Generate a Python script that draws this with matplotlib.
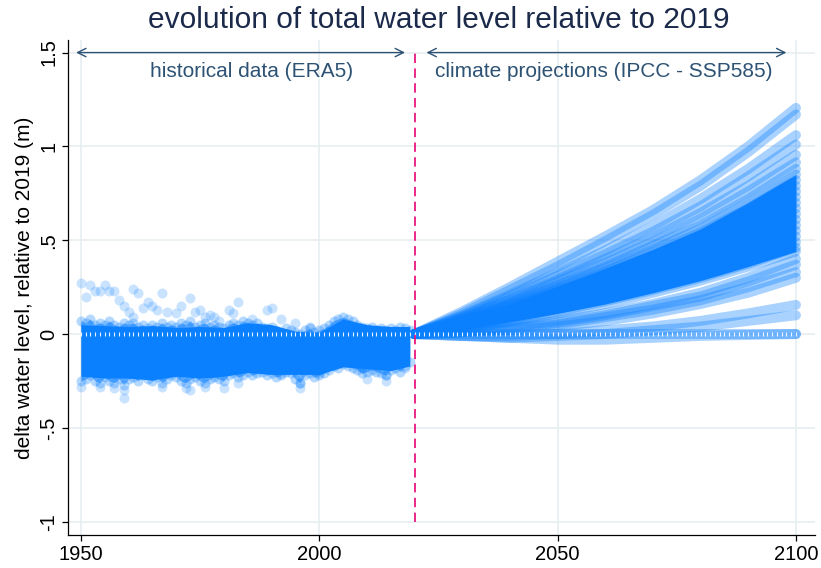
import numpy as np
import matplotlib
matplotlib.use("Agg")
import matplotlib.pyplot as plt

plt.rcParams['font.family'] = ['Liberation Sans', 'DejaVu Sans']

# historical reanalysis (ERA5): yearly spread of the water level, relative to 2019
hist_years = np.arange(1950, 2020)
hist_hi = [0.07, 0.06, 0.08, 0.05, 0.06, 0.05, 0.07, 0.05, 0.04, 0.06,
           0.05, 0.06, 0.04, 0.05, 0.03, 0.05, 0.04, 0.06, 0.04, 0.05,
           0.04, 0.06, 0.05, 0.07, 0.04, 0.05, 0.06, 0.04, 0.05, 0.04,
           0.03, 0.05, 0.06, 0.05, 0.07, 0.06, 0.05, 0.06, 0.04, 0.03,
           0.04, 0.02, 0.01, 0.03, 0.02, 0.01, 0.00, 0.02, 0.03, 0.01,
           0.02, 0.03, 0.05, 0.07, 0.08, 0.09, 0.08, 0.07, 0.05, 0.04,
           0.03, 0.04, 0.02, 0.03, 0.02, 0.03, 0.02, 0.04, 0.03, 0.02]
hist_lo = [-0.25, -0.24, -0.22, -0.25, -0.26, -0.23, -0.25, -0.26, -0.24, -0.27,
           -0.24, -0.23, -0.25, -0.22, -0.24, -0.25, -0.23, -0.26, -0.24, -0.22,
           -0.23, -0.25, -0.26, -0.24, -0.23, -0.25, -0.26, -0.24, -0.23, -0.24,
           -0.25, -0.22, -0.21, -0.23, -0.22, -0.20, -0.22, -0.21, -0.20, -0.22,
           -0.21, -0.23, -0.22, -0.20, -0.21, -0.24, -0.26, -0.22, -0.21, -0.23,
           -0.22, -0.21, -0.19, -0.17, -0.18, -0.16, -0.17, -0.18, -0.19, -0.21,
           -0.20, -0.19, -0.20, -0.21, -0.22, -0.19, -0.18, -0.20, -0.17, -0.15]

# dense core of the historical cloud
core_years = [1950, 1955, 1960, 1965, 1970, 1975, 1980, 1985, 1990, 1995, 2000, 2005, 2010, 2015, 2019]
core_hi = [0.05, 0.045, 0.04, 0.045, 0.035, 0.04, 0.035, 0.06, 0.05, 0.015, 0.01, 0.08, 0.05, 0.04, 0.04]
core_lo = [-0.225, -0.235, -0.235, -0.245, -0.225, -0.235, -0.225, -0.205, -0.215, -0.215, -0.215,
           -0.175, -0.185, -0.195, -0.17]

# isolated extremes
out_years = [1950, 1952, 1951, 1953, 1954, 1955, 1956, 1957, 1958, 1959, 1960, 1961, 1962, 1961,
             1963, 1964, 1965, 1966, 1967, 1968, 1970, 1971, 1973, 1974, 1975, 1976, 1977, 1978,
             1979, 1981, 1982, 1983, 1986, 1989, 1990, 1992, 1995, 1998,
             1950, 1959, 1959, 1954, 1957, 1967, 1972, 1973, 1976, 1980, 1983,
             1996, 1996, 1992, 2000, 2009, 2010, 2014, 2014, 2018, 2009]
out_vals = [0.27, 0.26, 0.20, 0.23, 0.23, 0.26, 0.23, 0.23, 0.18, 0.15, 0.12, 0.24, 0.22, 0.09,
            0.14, 0.17, 0.15, 0.13, 0.22, 0.12, 0.11, 0.15, 0.19, 0.12, 0.13, 0.09, 0.10, 0.09,
            0.07, 0.13, 0.11, 0.17, 0.08, 0.13, 0.14, 0.08, 0.06, 0.04,
            -0.28, -0.34, -0.30, -0.28, -0.29, -0.28, -0.29, -0.30, -0.28, -0.29, -0.26,
            -0.29, -0.26, -0.21, -0.21, -0.18, -0.24, -0.22, -0.25, -0.18, -0.17]

# climate projections (SSP5-8.5), one row per model run
proj_years = [2020, 2030, 2040, 2050, 2060, 2070, 2080, 2090, 2100]
proj_top = [
    [0, 0.12, 0.25, 0.385, 0.52, 0.66, 0.82, 1.00, 1.205],
    [0, 0.11, 0.235, 0.36, 0.495, 0.635, 0.79, 0.97, 1.17],
    [0, 0.10, 0.21, 0.325, 0.445, 0.575, 0.72, 0.88, 1.06],
    [0, 0.095, 0.20, 0.31, 0.425, 0.545, 0.68, 0.84, 1.01],
    [0, 0.09, 0.185, 0.29, 0.40, 0.515, 0.645, 0.79, 0.955],
    [0, 0.085, 0.18, 0.28, 0.38, 0.49, 0.615, 0.76, 0.915],
]
proj_mid = [
    [0, 0.08, 0.17, 0.26, 0.36, 0.47, 0.58, 0.72, 0.88],
    [0, 0.08, 0.16, 0.255, 0.35, 0.45, 0.56, 0.70, 0.85],
    [0, 0.07, 0.155, 0.245, 0.335, 0.435, 0.54, 0.67, 0.82],
    [0, 0.07, 0.15, 0.235, 0.325, 0.42, 0.52, 0.65, 0.79],
    [0, 0.065, 0.145, 0.23, 0.31, 0.40, 0.50, 0.62, 0.76],
    [0, 0.065, 0.14, 0.22, 0.30, 0.385, 0.48, 0.60, 0.73],
    [0, 0.06, 0.13, 0.21, 0.285, 0.37, 0.46, 0.57, 0.70],
    [0, 0.06, 0.125, 0.20, 0.275, 0.355, 0.44, 0.55, 0.67],
    [0, 0.055, 0.12, 0.19, 0.26, 0.34, 0.42, 0.52, 0.64],
    [0, 0.05, 0.11, 0.18, 0.25, 0.32, 0.40, 0.50, 0.61],
    [0, 0.05, 0.105, 0.17, 0.235, 0.305, 0.38, 0.475, 0.58],
    [0, 0.045, 0.10, 0.16, 0.22, 0.29, 0.36, 0.45, 0.55],
    [0, 0.04, 0.09, 0.15, 0.205, 0.27, 0.34, 0.425, 0.52],
    [0, 0.035, 0.08, 0.135, 0.19, 0.25, 0.32, 0.40, 0.49],
    [0, 0.03, 0.07, 0.12, 0.175, 0.235, 0.30, 0.375, 0.46],
    [0, 0.025, 0.065, 0.11, 0.16, 0.22, 0.285, 0.36, 0.44],
]
proj_low = [
    [0, 0.01, 0.04, 0.07, 0.11, 0.16, 0.22, 0.30, 0.40],
    [0, 0.01, 0.03, 0.06, 0.10, 0.15, 0.20, 0.28, 0.37],
    [0, 0.01, 0.03, 0.05, 0.09, 0.13, 0.18, 0.25, 0.33],
    [0, 0.01, 0.02, 0.04, 0.07, 0.11, 0.16, 0.22, 0.30],
    [0, -0.01, -0.01, 0.0, 0.02, 0.04, 0.07, 0.11, 0.155],
    [0, -0.01, -0.02, -0.01, 0.0, 0.02, 0.04, 0.07, 0.10],
    [0, 0, 0, 0, 0, 0, 0, 0, 0],
    [0, -0.01, -0.02, -0.03, -0.03, -0.02, -0.01, -0.005, 0],
]

blue = '#0a80ff'
navy = '#2d5274'
grid_c = '#e6eef0'

fig = plt.figure(figsize=(8.21, 5.68), dpi=100)
ax = fig.add_axes([0.0828, 0.0581, 0.9099, 0.8715])

ax.set_xlim(1947.3, 2104)
ax.set_ylim(-1.071, 1.567)
ax.set_xticks([1950, 2000, 2050, 2100])
ax.set_yticks([-1, -0.5, 0, 0.5, 1, 1.5])
ax.set_yticklabels(['-1', '-.5', '0', '.5', '1', '1.5'], rotation=90, va='center')
ax.tick_params(axis='both', labelsize=14.5, length=4, width=0.9, colors='black', pad=3)
ax.grid(True, color=grid_c, lw=1.1, zorder=0)
ax.set_axisbelow(True)
for s in ['top', 'right']:
    ax.spines[s].set_visible(False)
for s in ['left', 'bottom']:
    ax.spines[s].set_linewidth(0.9)

# historical cloud
ax.fill_between(hist_years, hist_lo, hist_hi, color=blue, alpha=0.55, lw=0, zorder=2)
ax.fill_between(core_years, core_lo, core_hi, color=blue, lw=0, zorder=2)
ax.scatter(hist_years, hist_hi, s=52, color=blue, alpha=0.3, lw=0, zorder=2)
ax.scatter(hist_years, hist_lo, s=52, color=blue, alpha=0.3, lw=0, zorder=2)
ax.scatter(out_years, out_vals, s=52, color=blue, alpha=0.22, lw=0, zorder=2)

# projection runs
ax.fill_between(proj_years, proj_mid[-1], proj_mid[1], color=blue, lw=0, zorder=2)
for run in proj_top + proj_mid + proj_low:
    ax.plot(proj_years, run, color=blue, alpha=0.35, lw=7.2, solid_capstyle='round', zorder=2)

# zero markers along the reference level
all_years = np.arange(1950, 2101)
ax.plot(all_years, np.zeros(len(all_years)), ls='none', marker='|', ms=3, mew=0.8,
        color='white', alpha=0.9, zorder=3)

# split between reanalysis and projections
ax.plot([2020, 2020], [-1, 1.5], color='#e8177f', lw=1.3, dashes=(5.2, 3.0), zorder=4)

arrow = dict(arrowstyle='<->', color=navy, lw=1.0, mutation_scale=15, shrinkA=0, shrinkB=0)
ax.annotate('', xy=(1949, 1.5), xytext=(2018, 1.5), arrowprops=arrow, zorder=5)
ax.annotate('', xy=(2022.5, 1.5), xytext=(2098, 1.5), arrowprops=arrow, zorder=5)
ax.text(1985.9, 1.397, 'historical data (ERA5)', color=navy, fontsize=15, ha='center', va='center')
ax.text(2059.7, 1.397, 'climate projections (IPCC - SSP585)', color=navy, fontsize=15,
        ha='center', va='center')

ax.set_ylabel('delta water level, relative to 2019 (m)', fontsize=15, labelpad=4)
fig.suptitle('evolution of total water level relative to 2019', fontsize=21.5,
             color='#1b2a4a', x=0.534, y=0.99, va='top')

fig.savefig('out.png', dpi=100)
